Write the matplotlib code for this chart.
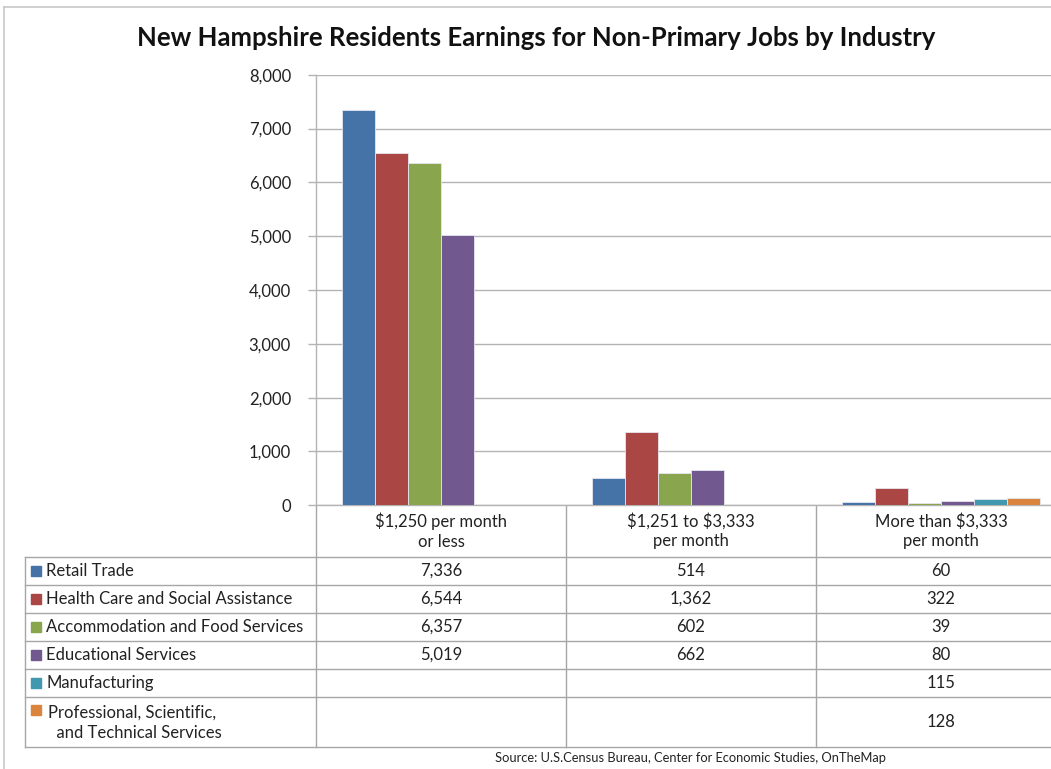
import numpy as np
import matplotlib
matplotlib.use('Agg')
import matplotlib.pyplot as plt
from matplotlib.patches import Rectangle

plt.rcParams['font.family'] = ['Lato', 'DejaVu Sans']
plt.rcParams['text.parse_math'] = False

# ── data ──
categories = ['$1,250 per month\nor less', '$1,251 to $3,333\nper month', 'More than $3,333\nper month']
series = ['Retail Trade', 'Health Care and Social Assistance', 'Accommodation and Food Services',
          'Educational Services', 'Manufacturing', 'Professional, Scientific,\n  and Technical Services']
retail = [7336, 514, 60]
health = [6544, 1362, 322]
accommodation = [6357, 602, 39]
educational = [5019, 662, 80]
manufacturing = [None, None, 115]
professional = [None, None, 128]
values = [retail, health, accommodation, educational, manufacturing, professional]
colors = ['#4572A7', '#AA4643', '#89A54E', '#71588F', '#4198AF', '#DB843D']
yticks = [0, 1000, 2000, 3000, 4000, 5000, 6000, 7000, 8000]

W, H = 1051, 769
fig = plt.figure(figsize=(W / 100, H / 100), dpi=100)
fig.patch.set_facecolor('white')

FS = 12
txt_c = '#222222'

# pixel layout helpers
ax_left, ax_right, ax_top, ax_bottom = 316, 1051, 74.7, 505.3
cat_w = 250.0
ax = fig.add_axes([ax_left / W, 1 - ax_bottom / H, (ax_right - ax_left) / W, (ax_bottom - ax_top) / H])
ax.set_xlim(0, (ax_right - ax_left) / cat_w)
ax.set_ylim(0, 8000)

gap = 26 / cat_w
bw = 33 / cat_w
for j, (vals, c) in enumerate(zip(values, colors)):
    for i, v in enumerate(vals):
        if v is None:
            continue
        ax.bar(i + gap + bw * (j + 0.5), v, width=bw, color=c, edgecolor='#e6e6f0', linewidth=0.6, zorder=3)

grid_c = '#b3b3b3'
ax.set_yticks(yticks)
ax.set_yticklabels([f'{t:,}' for t in yticks], fontsize=FS, color=txt_c)
ax.yaxis.grid(True, color=grid_c, linewidth=1.0, zorder=0)
ax.set_xticks([])
ax.tick_params(axis='y', length=6, width=1, color=grid_c, pad=12)
for s in ['top', 'right']:
    ax.spines[s].set_visible(False)
ax.spines['left'].set_color(grid_c)
ax.spines['bottom'].set_color(grid_c)
ax.spines['left'].set_linewidth(1.0)
ax.spines['bottom'].set_linewidth(1.0)

# ── overlay in pixel coords for table, title and frame ──
ov = fig.add_axes([0, 0, 1, 1], zorder=-1)
ov.set_xlim(0, W)
ov.set_ylim(H, 0)
ov.axis('off')

# outer chart frame
ov.plot([4, 4], [7, H], color='#c8c8c8', lw=1.2)
ov.plot([4, W], [7, 7], color='#c8c8c8', lw=1.2)

ov.text(536, 38, 'New Hampshire Residents Earnings for Non-Primary Jobs by Industry',
        ha='center', va='center', fontsize=18.5, fontweight='bold', color='#111111')

tbl_left = 25
row_edges = [557, 585, 613, 641, 669, 697, 747]
col_edges = [ax_left + cat_w * k for k in range(4)]
line_c = '#a6a6a6'
for y in row_edges:
    ov.plot([tbl_left, W], [y, y], color=line_c, lw=1.0)
ov.plot([tbl_left, tbl_left], [row_edges[0], row_edges[-1]], color=line_c, lw=1.0)
for x in col_edges[:3]:
    ov.plot([x, x], [ax_bottom, row_edges[-1]], color=line_c, lw=1.0)

for i, cat in enumerate(categories):
    ov.text(col_edges[i] + cat_w / 2, 531, cat, ha='center', va='center',
            fontsize=FS, color=txt_c, linespacing=1.3)

for j, (name, vals, c) in enumerate(zip(series, values, colors)):
    y0, y1 = row_edges[j], row_edges[j + 1]
    yc = (y0 + y1) / 2
    if '\n' in name:
        ov.add_patch(Rectangle((31, y0 + 8), 10, 10, color=c))
        ov.text(48, yc + 1, name, ha='left', va='center', fontsize=FS, color=txt_c, linespacing=1.3)
    else:
        ov.add_patch(Rectangle((31, yc - 5), 10, 10, color=c))
        ov.text(46, yc, name, ha='left', va='center', fontsize=FS, color=txt_c)
    for i, v in enumerate(vals):
        if v is None:
            continue
        ov.text(col_edges[i] + cat_w / 2, yc, f'{v:,}', ha='center', va='center',
                fontsize=FS, color=txt_c)

ov.text(690, 758, 'Source: U.S.Census Bureau, Center for Economic Studies, OnTheMap',
        ha='center', va='center', fontsize=9.3, color=txt_c)

fig.savefig('out.png', dpi=100)
